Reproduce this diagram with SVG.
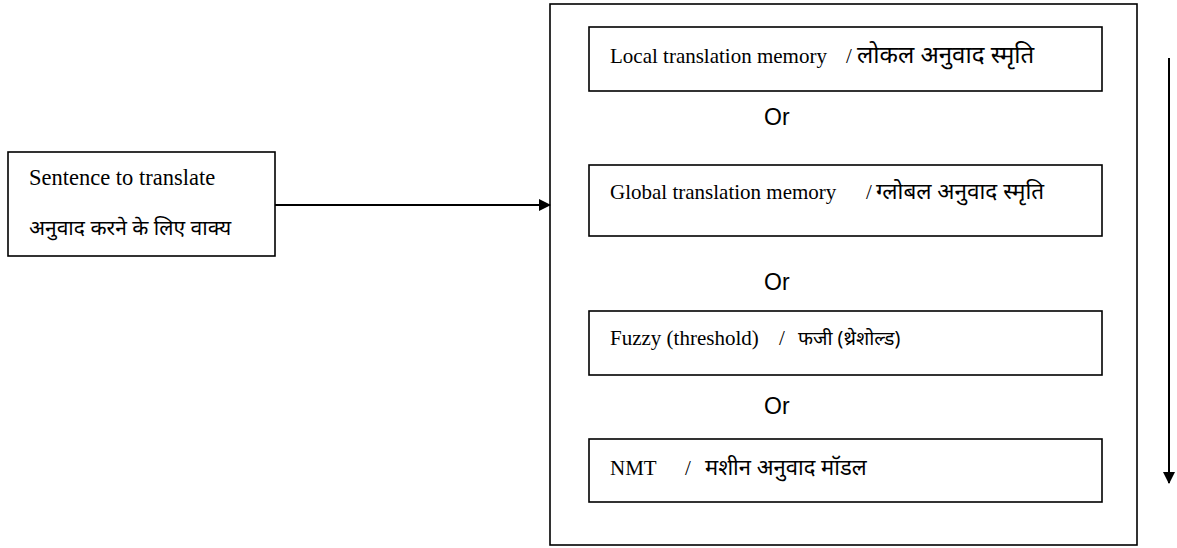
<svg xmlns="http://www.w3.org/2000/svg" width="1177" height="548" viewBox="0 0 1177 548">
<style>
.box{fill:#fff;stroke:#000;stroke-width:1.6}
.t{font-family:"Liberation Serif",serif;font-size:21px;fill:#000}
.h{font-family:"Noto Sans","Noto Serif Devanagari","Lohit Devanagari",sans-serif;font-size:21px;fill:#000}
.or{font-family:"Liberation Sans","Open Sans",sans-serif;font-size:23px;fill:#000}
.ln{stroke:#000;stroke-width:2;fill:none}
</style>
<defs>
<marker id="ah" markerWidth="12" markerHeight="12" refX="11" refY="6" orient="auto" markerUnits="userSpaceOnUse" viewBox="0 0 12 12">
<path d="M0,0 L12,6 L0,12 Z" fill="#000"/>
</marker>
</defs>
<rect width="1177" height="548" fill="#fff"/>
<g id="input">
<rect class="box" x="8" y="152" width="267" height="104"/>
<text class="t" x="29" y="185" style="font-size:22.5px">Sentence to translate</text>
<text class="h" x="29" y="235">अनुवाद करने के लिए वाक्य</text>
</g>
<g id="container">
<rect class="box" x="550" y="4" width="587" height="541"/>
</g>
<g id="local">
<rect class="box" x="589" y="27" width="513" height="64"/>
<text class="t" x="610" y="63">Local translation memory</text>
<text class="t" x="846" y="63">/</text>
<text class="h" x="857" y="63" style="font-size:24px">लोकल अनुवाद स्मृति</text>
</g>
<g id="global">
<rect class="box" x="589" y="165" width="513" height="71"/>
<text class="t" x="610" y="199">Global translation memory</text>
<text class="t" x="866" y="199">/</text>
<text class="h" x="876" y="199" style="font-size:22.5px">ग्लोबल अनुवाद स्मृति</text>
</g>
<g id="fuzzy">
<rect class="box" x="589" y="311" width="513" height="64"/>
<text class="t" x="610" y="345">Fuzzy (threshold)</text>
<text class="t" x="779" y="345">/</text>
<text class="h" x="798" y="345" style="font-size:19.5px">फजी (थ्रेशोल्ड)</text>
</g>
<g id="nmt">
<rect class="box" x="589" y="439" width="513" height="63"/>
<text class="t" x="610" y="475">NMT</text>
<text class="t" x="685" y="475">/</text>
<text class="h" x="705" y="475" style="font-size:22px">मशीन अनुवाद मॉडल</text>
</g>
<g id="labels">
<text class="or" x="764" y="125">Or</text>
<text class="or" x="764" y="290">Or</text>
<text class="or" x="764" y="414">Or</text>
</g>
<g id="connectors">
<line class="ln" x1="275" y1="205" x2="550" y2="205" marker-end="url(#ah)"/>
<line class="ln" x1="1169" y1="58" x2="1169" y2="483" marker-end="url(#ah)"/>
</g>
</svg>
